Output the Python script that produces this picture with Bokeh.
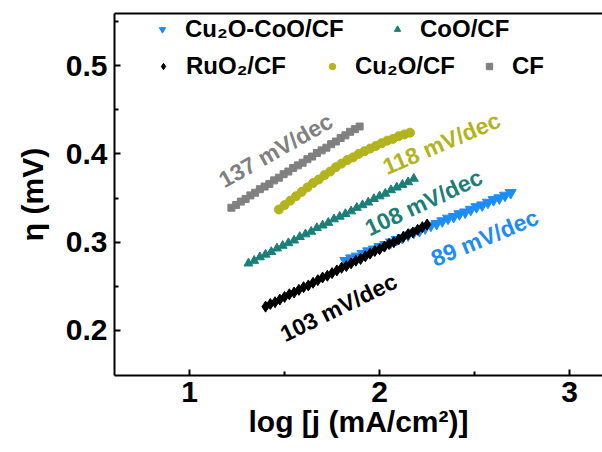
from bokeh.plotting import figure
from bokeh.models import LinearAxis, FixedTicker, Legend, LegendItem, Range1d, ColumnDataSource
from bokeh.core.properties import value
from bokeh.embed import file_html
from bokeh.resources import INLINE
import math

FONT = "Liberation Sans"

# ---------------- data ----------------
cf_x = [1.220, 1.245, 1.270, 1.295, 1.320, 1.345, 1.370, 1.395, 1.420, 1.445,
        1.470, 1.495, 1.520, 1.545, 1.570, 1.595, 1.620, 1.645, 1.670, 1.695,
        1.720, 1.745, 1.770, 1.795, 1.820, 1.845, 1.870, 1.895]
cf_y = [0.339, 0.342, 0.346, 0.349, 0.353, 0.356, 0.360, 0.363, 0.366, 0.370,
        0.373, 0.377, 0.380, 0.384, 0.387, 0.390, 0.394, 0.397, 0.401, 0.404,
        0.407, 0.411, 0.414, 0.418, 0.421, 0.425, 0.428, 0.431]

cu2o_x = [1.47, 1.50, 1.53, 1.56, 1.59, 1.62, 1.65, 1.68, 1.71, 1.74, 1.77, 1.80,
          1.83, 1.86, 1.89, 1.92, 1.95, 1.98, 2.01, 2.04, 2.07, 2.10, 2.13, 2.16]
cu2o_y = [0.337, 0.342, 0.347, 0.352, 0.357, 0.362, 0.367, 0.371, 0.376, 0.380, 0.385, 0.389,
          0.393, 0.396, 0.400, 0.403, 0.406, 0.409, 0.412, 0.415, 0.417, 0.420, 0.422, 0.424]

coo_x = [1.31, 1.34, 1.37, 1.40, 1.43, 1.46, 1.49, 1.52, 1.55, 1.58,
         1.61, 1.64, 1.67, 1.70, 1.73, 1.76, 1.79, 1.82, 1.85, 1.88,
         1.91, 1.94, 1.97, 2.00, 2.03, 2.06, 2.09, 2.12, 2.15, 2.18]
coo_y = [0.276, 0.279, 0.283, 0.286, 0.289, 0.293, 0.296, 0.299, 0.302, 0.306,
         0.309, 0.312, 0.316, 0.319, 0.322, 0.326, 0.329, 0.332, 0.335, 0.339,
         0.342, 0.345, 0.349, 0.352, 0.355, 0.359, 0.362, 0.365, 0.368, 0.372]

cucoo_x = [1.82, 1.85, 1.88, 1.91, 1.94, 1.97, 2.00, 2.03, 2.06, 2.09,
           2.12, 2.15, 2.18, 2.21, 2.24, 2.27, 2.30, 2.33, 2.36, 2.39,
           2.42, 2.45, 2.48, 2.51, 2.54, 2.57, 2.60, 2.63, 2.66, 2.69]
cucoo_y = [0.279, 0.282, 0.284, 0.287, 0.290, 0.292, 0.295, 0.297, 0.300, 0.303,
           0.305, 0.308, 0.311, 0.313, 0.316, 0.319, 0.321, 0.324, 0.327, 0.329,
           0.332, 0.334, 0.337, 0.340, 0.342, 0.345, 0.348, 0.350, 0.353, 0.356]

ruo2_x = [1.400, 1.425, 1.450, 1.475, 1.500, 1.525, 1.550, 1.575, 1.600, 1.625,
          1.650, 1.675, 1.700, 1.725, 1.750, 1.775, 1.800, 1.825, 1.850, 1.875,
          1.900, 1.925, 1.950, 1.975, 2.000, 2.025, 2.050, 2.075, 2.100, 2.125,
          2.150, 2.175, 2.200, 2.225, 2.250]
ruo2_y = [0.227, 0.230, 0.232, 0.235, 0.238, 0.241, 0.243, 0.246, 0.249, 0.251,
          0.254, 0.257, 0.260, 0.262, 0.265, 0.268, 0.271, 0.273, 0.276, 0.279,
          0.281, 0.284, 0.287, 0.290, 0.292, 0.295, 0.298, 0.300, 0.303, 0.306,
          0.309, 0.311, 0.314, 0.317, 0.320]

x_ticks = [1, 2, 3]
x_minor = [1.5, 2.5]
y_ticks = [0.2, 0.3, 0.4, 0.5]
y_minor = [0.25, 0.35, 0.45, 0.55]

slope_text = ["137 mV/dec", "118 mV/dec", "108 mV/dec", "89 mV/dec", "103 mV/dec"]
slope_x = [1.453, 2.326, 2.232, 2.553, 1.784]
slope_y = [0.404, 0.412, 0.345, 0.305, 0.226]
slope_angle_deg = [29.5, 23.0, 25.0, 22.6, 26.0]

GRAY = "#808080"
OLIVE = "#B3B31E"
TEAL = "#1A7F78"
BLUE = "#1E8CF5"
BLACK = "#000000"

# ---------------- figure ----------------
p = figure(width=602, height=452, output_backend="svg", toolbar_location=None,
           x_range=Range1d(0.605, 3.173), y_range=Range1d(0.149, 0.559),
           min_border_left=114, min_border_right=0, min_border_top=13,
           min_border_bottom=77)
p.outline_line_color = None
p.xgrid.visible = False
p.ygrid.visible = False
p.background_fill_color = "white"
p.border_fill_color = "white"

r_cf = p.scatter(cf_x, cf_y, marker="square", size=7, color=GRAY)
r_cu2o = p.scatter(cu2o_x, cu2o_y, marker="circle", size=9, color=OLIVE)
r_coo = p.scatter(coo_x, coo_y, marker="triangle", size=9, color=TEAL)
r_cucoo = p.scatter(cucoo_x, cucoo_y, marker="inverted_triangle", size=11, color=BLUE)
r_ruo2 = p.scatter(ruo2_x, ruo2_y, marker="diamond", size=11, color=BLACK)

lab_src = ColumnDataSource(dict(x=slope_x, y=slope_y, text=slope_text,
                                angle=[math.radians(a) for a in slope_angle_deg],
                                color=[GRAY, OLIVE, TEAL, BLUE, BLACK]))
p.text(x="x", y="y", text="text", angle="angle", text_color="color", source=lab_src,
       text_font=value(FONT), text_font_style="bold", text_font_size="23px",
       text_align="center", text_baseline="middle")

# axes
for ax in (p.xaxis[0], p.yaxis[0]):
    ax.axis_line_width = 2
    ax.major_tick_line_width = 2
    ax.minor_tick_line_width = 2
    ax.major_tick_in = 6
    ax.major_tick_out = 0
    ax.minor_tick_in = 4
    ax.minor_tick_out = 0
    ax.major_label_text_font = FONT
    ax.major_label_text_font_style = "bold"
    ax.major_label_text_font_size = "30px"
    ax.major_label_text_color = "black"
    ax.axis_label_text_font = FONT
    ax.axis_label_text_font_style = "bold"
    ax.axis_label_text_font_size = "30px"
    ax.axis_label_text_color = "black"

p.xaxis[0].ticker = FixedTicker(ticks=x_ticks, minor_ticks=x_minor)
p.yaxis[0].ticker = FixedTicker(ticks=y_ticks, minor_ticks=y_minor)
p.xaxis[0].axis_label = "log [j (mA/cm²)]"
p.yaxis[0].axis_label = "η (mV)"
p.xaxis[0].major_label_standoff = 6
p.xaxis[0].axis_label_standoff = 0
p.yaxis[0].major_label_standoff = 7
p.yaxis[0].axis_label_standoff = 14

top = LinearAxis(ticker=FixedTicker(ticks=[]), axis_line_width=2,
                 major_tick_line_color=None, minor_tick_line_color=None,
                 major_label_text_font_size="0px")
p.add_layout(top, "above")

# legends (one per entry, placed like the reference)
leg_specs = [
    ("Cu₂O-CoO/CF", r_cucoo, 40, 332),
    ("CoO/CF", r_coo, 275, 332),
    ("RuO₂/CF", r_ruo2, 41, 295),
    ("Cu₂O/CF", r_cu2o, 210, 295),
    ("CF", r_cf, 367, 295),
]
for label, rend, lx, ly in leg_specs:
    lg = Legend(items=[LegendItem(label=label, renderers=[rend])], location=(lx, ly),
                border_line_color=None, background_fill_alpha=0, padding=0, margin=0,
                glyph_width=16, glyph_height=24, label_height=24, label_standoff=15,
                label_text_font=FONT, label_text_font_style="bold",
                label_text_font_size="24px", label_text_color="black")
    p.add_layout(lg)

open("out.html", "w").write(file_html(p, INLINE))
